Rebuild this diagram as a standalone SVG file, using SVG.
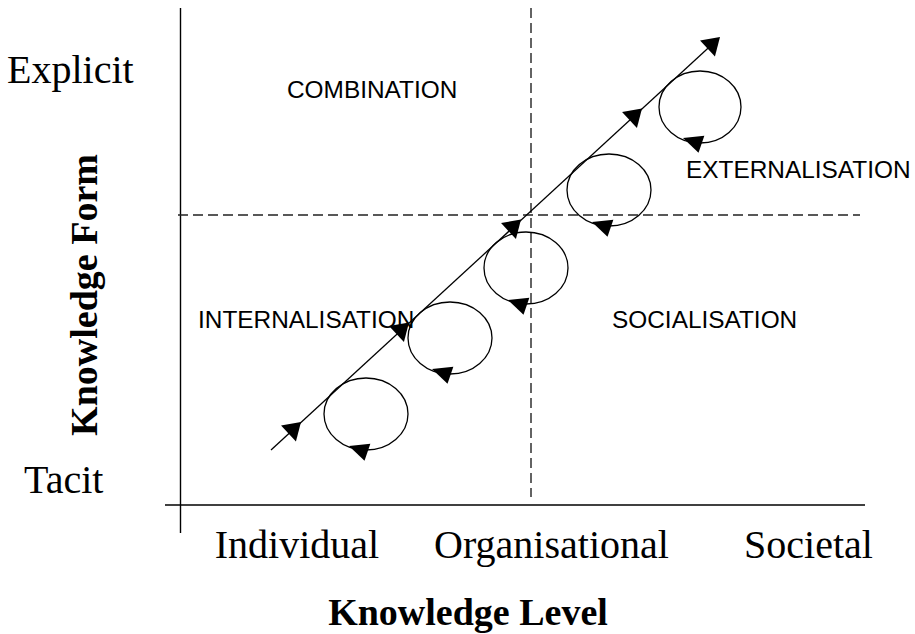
<svg xmlns="http://www.w3.org/2000/svg" width="915" height="634" viewBox="0 0 915 634">
  <style>
    .axis { stroke: #000; stroke-width: 1.4; fill: none; }
    .divider { stroke: #222; stroke-width: 1.4; stroke-dasharray: 10 5; fill: none; }
    .spiral-line { stroke: #000; stroke-width: 1.3; fill: none; }
    .cycle { stroke: #000; stroke-width: 1.3; fill: none; }
    .head { fill: #000; stroke: none; }
    .serif { font-family: "Liberation Serif", "Times New Roman", serif; fill: #000; }
    .tick { font-size: 40px; }
    .title { font-size: 38px; font-weight: bold; }
    .quad { font-family: "Liberation Sans", Arial, sans-serif; font-size: 24.4px; fill: #000; }
  </style>
  <defs>
    <!-- filled arrowheads, tip at origin, pointing along +x -->
    <path id="head-line" class="head" d="M0,0 L-17,-11 L-17,11 Z"/>
    <path id="head-cycle" class="head" d="M0,0 L-19.5,-9 L-19.5,9 Z"/>
  </defs>

  <!-- axes -->
  <g id="axes">
    <line class="axis" x1="180.5" y1="8" x2="180.5" y2="533"/>
    <line class="axis" x1="165" y1="505" x2="865" y2="505"/>
  </g>

  <!-- quadrant dividers -->
  <g id="dividers">
    <line class="divider" x1="531" y1="8" x2="531" y2="497"/>
    <line class="divider" x1="178" y1="215" x2="860" y2="215"/>
  </g>

  <!-- axis labels -->
  <g id="axis-labels" class="serif">
    <text class="tick" x="7" y="83">Explicit</text>
    <text class="tick" x="24" y="493">Tacit</text>
    <text class="tick" x="297" y="558" text-anchor="middle">Individual</text>
    <text class="tick" x="551.5" y="558" text-anchor="middle">Organisational</text>
    <text class="tick" x="808.5" y="558" text-anchor="middle">Societal</text>
    <text class="title" x="468" y="625" text-anchor="middle">Knowledge Level</text>
    <text class="title" transform="translate(97 295) rotate(-90)" text-anchor="middle">Knowledge Form</text>
  </g>

  <!-- quadrant labels -->
  <g id="quadrant-labels" class="quad">
    <text x="287" y="98">COMBINATION</text>
    <text x="686" y="178">EXTERNALISATION</text>
    <text x="198" y="328">INTERNALISATION</text>
    <text x="612" y="328">SOCIALISATION</text>
  </g>

  <!-- knowledge cycles -->
  <g id="cycle-1">
    <ellipse class="cycle" cx="366" cy="414" rx="42" ry="36"/>
    <use href="#head-cycle" transform="translate(349 446) rotate(-161)"/>
  </g>
  <g id="cycle-2">
    <ellipse class="cycle" cx="450" cy="338" rx="42" ry="36"/>
    <use href="#head-cycle" transform="translate(432 369) rotate(-161)"/>
  </g>
  <g id="cycle-3">
    <ellipse class="cycle" cx="526" cy="268" rx="42" ry="36"/>
    <use href="#head-cycle" transform="translate(508 300) rotate(-161)"/>
  </g>
  <g id="cycle-4">
    <ellipse class="cycle" cx="609" cy="190" rx="42" ry="36"/>
    <use href="#head-cycle" transform="translate(592 222) rotate(-161)"/>
  </g>
  <g id="cycle-5">
    <ellipse class="cycle" cx="700" cy="107" rx="41" ry="36"/>
    <use href="#head-cycle" transform="translate(683 138) rotate(-161)"/>
  </g>

  <!-- rising knowledge spiral -->
  <g id="connectors">
    <line class="spiral-line" x1="271" y1="450" x2="718" y2="39"/>
    <use href="#head-line" transform="translate(301 422) rotate(-42.6)"/>
    <use href="#head-line" transform="translate(409 322.5) rotate(-42.6)"/>
    <use href="#head-line" transform="translate(521 219.5) rotate(-42.6)"/>
    <use href="#head-line" transform="translate(642 108.5) rotate(-42.6)"/>
    <use href="#head-line" transform="translate(720 37) rotate(-42.6)"/>
  </g>
</svg>
